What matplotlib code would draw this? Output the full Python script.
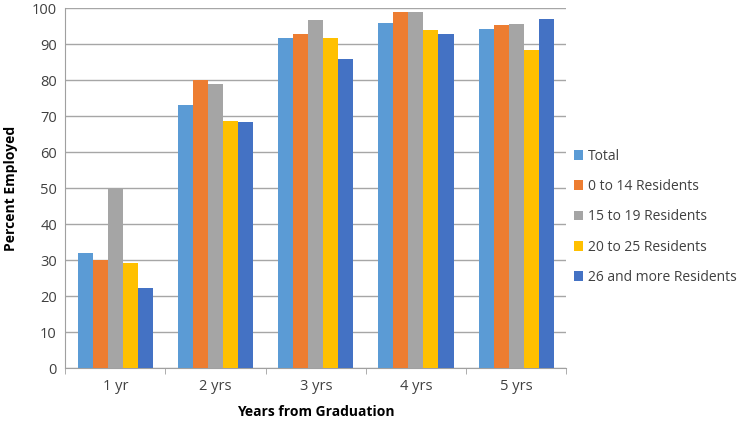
import matplotlib
matplotlib.use('Agg')
import matplotlib.pyplot as plt
import numpy as np

#======= Data =========================
years = ['1 yr', '2 yrs', '3 yrs', '4 yrs', '5 yrs']
series_names = ['Total', '0 to 14 Residents', '15 to 19 Residents',
                '20 to 25 Residents', '26 and more Residents']
total = [31.9, 73.2, 91.6, 95.9, 94.3]
res_0_14 = [30.1, 80.0, 92.9, 98.8, 95.2]
res_15_19 = [50.0, 78.9, 96.6, 98.8, 95.6]
res_20_25 = [29.1, 68.6, 91.6, 93.9, 88.3]
res_26_up = [22.3, 68.3, 85.9, 92.9, 96.9]
colors = ['#5B9BD5', '#ED7D31', '#A5A5A5', '#FFC000', '#4472C4']

plt.rcParams['font.family'] = ['Open Sans', 'DejaVu Sans']

fig = plt.figure(figsize=(7.5, 4.24), dpi=100)
ax = fig.add_axes([0.087, 0.132, 0.668, 0.849])

x = np.arange(len(years))
w = 0.15
all_series = [total, res_0_14, res_15_19, res_20_25, res_26_up]
for i, (vals, name) in enumerate(zip(all_series, series_names)):
    ax.bar(x + (i - 2) * w, vals, w, color=colors[i], label=name, zorder=3)

ax.set_xlim(-0.5, len(years) - 0.5)
ax.set_ylim(0, 100)
ax.set_yticks(range(0, 101, 10))
ax.tick_params(axis='y', length=0, labelsize=10.5, colors='#404040', pad=6)
ax.set_xticks(x)
ax.set_xticklabels(years)
ax.tick_params(axis='x', which='major', length=0, labelsize=10.5, colors='#404040', pad=8)
ax.set_xticks(np.arange(-0.5, len(years), 1), minor=True)
ax.tick_params(axis='x', which='minor', length=4, color='#A0A0A0')
ax.grid(axis='y', color='#A6A6A6', linewidth=1, zorder=0)

for s in ['top', 'right']:
    ax.spines[s].set_visible(False)
ax.spines['left'].set_color('#A0A0A0')
ax.spines['bottom'].set_color('#A0A0A0')

ax.set_ylabel('Percent Employed', fontsize=10, fontweight='bold', labelpad=10)
ax.set_xlabel('Years from Graduation', fontsize=10, fontweight='bold', labelpad=8)

ax.legend(loc='center left', bbox_to_anchor=(0.99, 0.42), frameon=False,
          fontsize=10, handlelength=0.7, handleheight=0.7, handletextpad=0.35,
          labelspacing=1.1, labelcolor='#404040')

fig.savefig('out.png', dpi=100)
